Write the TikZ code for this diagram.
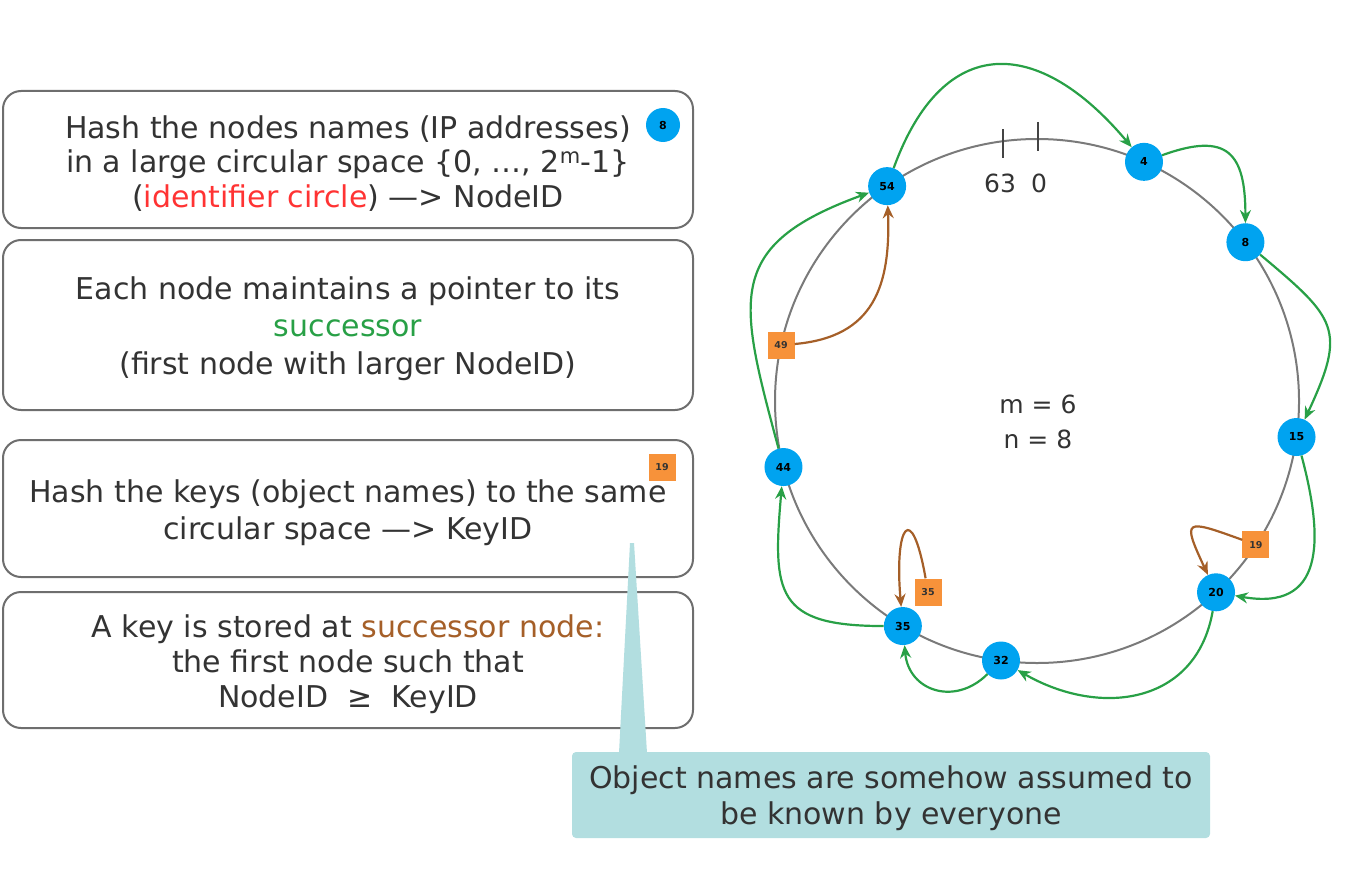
\documentclass[tikz,border=0pt]{standalone}
\usepackage{fontspec}
\setmainfont{DejaVu Sans}
\usetikzlibrary{calc,arrows.meta}
\definecolor{txt}{HTML}{333333}
\definecolor{boxline}{HTML}{6E6E6E}
\definecolor{nodeblue}{RGB}{0,163,240}
\definecolor{keyorange}{RGB}{247,146,58}
\definecolor{succgreen}{RGB}{40,160,70}
\definecolor{keybrown}{RGB}{165,95,40}
\definecolor{idred}{RGB}{255,51,51}
\definecolor{noteteal}{RGB}{178,222,224}
\definecolor{ringgray}{HTML}{7A7A7A}
\definecolor{tickgray}{HTML}{444444}

\begin{document}
\begin{tikzpicture}[x=1pt,y=-1pt,
  frame/.style={draw=boxline, line width=2pt, rounded corners=18pt, fill=white,
    minimum width=690pt, inner sep=0pt},
  boxtext/.style={align=center, text=txt, inner sep=0pt},
  peer/.style={circle, fill=nodeblue, minimum size=38pt, inner sep=0pt,
    font=\bfseries\fontsize{11}{11}\selectfont, text=black},
  keysq/.style={rectangle, fill=keyorange, minimum size=27pt, inner sep=0pt,
    font=\bfseries\fontsize{9.5}{9.5}\selectfont, text=black!80},
  succ/.style={draw=succgreen, line width=2.2pt, -{Stealth[length=13pt,width=11pt]}},
  store/.style={draw=keybrown, line width=2.2pt, -{Stealth[length=13pt,width=11pt]}},
  plain/.style={text=txt, font=\fontsize{25}{35}\selectfont, align=center},
]
\useasboundingbox (0,0) rectangle (1372,880);

% ---- explanation boxes ----
\node[frame, minimum height=137pt] (b1) at (348,159.5) {};
\node[boxtext, font=\fontsize{30}{34.5}\selectfont] (t1) at (348,163.5)
  {Hash the nodes names (IP addresses)\\
   in a large circular space \{0, …, 2\textsuperscript{m}-1\}\\
   ({\color{idred}identifier circle}) \textemdash> NodeID};
\node[peer, minimum size=34pt] (b1peer) at (663,125) {8};

\node[frame, minimum height=170pt] (b2) at (348,325) {};
\node[boxtext, font=\fontsize{30}{37.5}\selectfont] (t2) at (348,328.5)
  {Each node maintains a pointer to its\\
   {\color{succgreen}successor}\\
   (first node with larger NodeID)};

\node[frame, minimum height=137pt] (b3) at (348,508.5) {};
\node[boxtext, font=\fontsize{30}{37}\selectfont] (t3) at (348,512.5)
  {Hash the keys (object names) to the same\\
   circular space \textemdash> KeyID};
\node[keysq] (b3key) at (662,467) {19};

\node[frame, minimum height=136pt] (b4) at (348,660) {};
\node[boxtext, font=\fontsize{30}{35}\selectfont] (t4) at (348,664)
  {A key is stored at {\color{keybrown}successor node:}\\
   the first node such that\\
   NodeID~~≥~~KeyID};

% ---- callout ----
\coordinate (tipL) at (630,543);
\coordinate (tipR) at (634,543);
\coordinate (baseR) at (647,753);
\coordinate (baseL) at (619,753);
\fill[noteteal] (tipL) -- (tipR) -- (baseR) -- (baseL) -- cycle;
\node[fill=noteteal, rounded corners=4pt, minimum width=638pt, minimum height=86pt,
  inner sep=0pt] (note) at (891,795) {};
\node[boxtext, font=\fontsize{30}{36}\selectfont] (notetext) at (891,798)
  {Object names are somehow assumed to\\be known by everyone};

% ---- identifier circle ----
\coordinate (C) at (1037,401);
\draw[ringgray, line width=2pt] (C) circle[radius=262pt];
\draw[tickgray, line width=2pt] (1003,129) -- (1003,158);
\draw[tickgray, line width=2pt] (1038,122) -- (1038,151);
\node[plain] (l63) at (1000,183) {63};
\node[plain] (l0) at (1039,183) {0};
\node[plain] (mn) at (1038,422) {m = 6\\n = 8};

% peers on the ring
\node[peer] (n4)  at ($(C)+(65.9:262pt)$) {4};
\node[peer] (n8)  at ($(C)+(37.3:262pt)$) {8};
\node[peer] (n15) at ($(C)+(-7.9:262pt)$) {15};
\node[peer] (n20) at ($(C)+(-46.9:262pt)$) {20};
\node[peer] (n32) at ($(C)+(262.1:262pt)$) {32};
\node[peer] (n35) at ($(C)+(239.2:262pt)$) {35};
\node[peer] (n44) at ($(C)+(194.6:262pt)$) {44};
\node[peer] (n54) at ($(C)+(124.9:262pt)$) {54};

% keys
\node[keysq] (k49) at ($(C)+(167.7:262pt)$) {49};
\node[keysq] (k19) at ($(C)+(-33.3:262pt)$) {19};
\node[keysq] (k35) at (928,592) {35};

% successor pointers
\draw[succ] (n54) to[out=70, in=130, distance=145pt] (n4);
\draw[succ] (n4)  to[out=20, in=90, distance=70pt] (n8);
\draw[succ] (n8)  to[out=-40, in=65, distance=100pt] (n15);
\draw[succ] (n15) to[out=-75, in=-10, distance=90pt] (n20);
\draw[succ] (n20) to[out=-100, in=-30, distance=95pt] (n32);
\draw[succ] (n32) to[out=-135, in=-85, distance=46pt] (n35);
\draw[succ] (n35) to[out=180, in=-95, distance=108pt] (n44);
\draw[succ] (n44) to[out=105, in=200, distance=155pt] (n54);

% key storage
\draw[store] (k49) to[out=5, in=-88, distance=80pt] (n54);
\draw[store] (k19) to[out=160, in=115, distance=62pt] (n20);
\draw[store] (k35) to[out=100, in=95, distance=81pt] (n35);
\end{tikzpicture}
\end{document}
